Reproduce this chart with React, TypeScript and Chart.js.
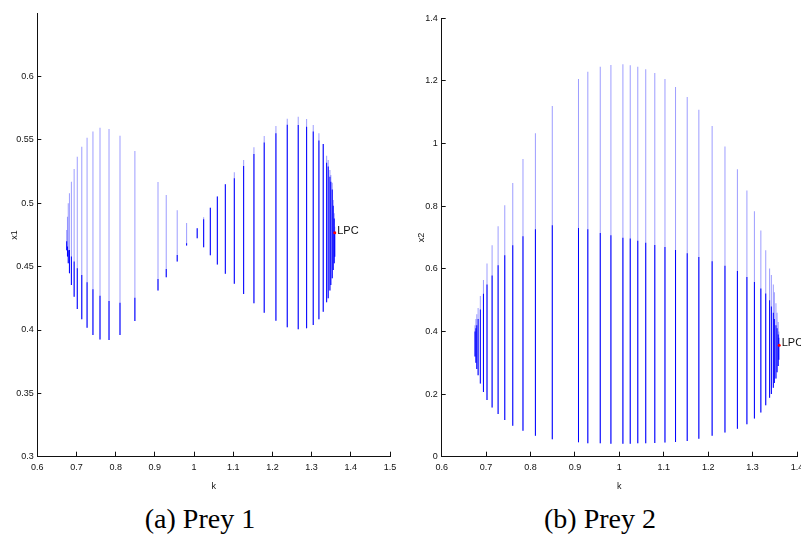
import React, { useEffect, useRef } from 'react';
import { Chart, registerables } from 'chart.js';
Chart.register(...registerables);

// continuation parameter k (shared by both panels)
const K = [0.675, 0.677, 0.679, 0.682, 0.687, 0.694, 0.702, 0.7135, 0.727, 0.742, 0.76, 0.783, 0.811, 0.849,
  0.908, 0.929, 0.957, 0.981, 1.008, 1.0245, 1.0415, 1.0594, 1.0798, 1.1027, 1.1265, 1.1528, 1.179, 1.2089,
  1.2378, 1.2658, 1.2872, 1.3041, 1.3186, 1.3296, 1.3383, 1.3423, 1.3467, 1.349, 1.3526, 1.3551, 1.3577, 1.359];

// Panel (a) Prey 1 : x1 range of the cycle
const A_LO = [0.463, 0.458, 0.4527, 0.4448, 0.4356, 0.4263, 0.4166, 0.4085, 0.4018, 0.3961, 0.3926, 0.3921, 0.3961, 0.4071,
  0.4311, 0.4416, 0.454, 0.4668, 0.4724, 0.4653, 0.459, 0.4517, 0.4444, 0.4366, 0.4285, 0.4211, 0.4137, 0.4074,
  0.4021, 0.4006, 0.4014, 0.404, 0.4085, 0.4145, 0.4219, 0.425, 0.4311, 0.4356, 0.4408, 0.4474, 0.4527, 0.4579];
const A_HI = [0.479, 0.4895, 0.5, 0.508, 0.5171, 0.5271, 0.5368, 0.5447, 0.5518, 0.5566, 0.5597, 0.5587, 0.5534, 0.5413,
  0.5168, 0.5066, 0.4945, 0.4845, 0.4803, 0.489, 0.4966, 0.5054, 0.515, 0.5245, 0.5342, 0.5442, 0.5532, 0.5611,
  0.5668, 0.5684, 0.5666, 0.5619, 0.5553, 0.5469, 0.5376, 0.5342, 0.5263, 0.5224, 0.5163, 0.5026, 0.4921, 0.4816];
const A_MID = [0.47, 0.466, 0.463, 0.4632, 0.458, 0.454, 0.4487, 0.4434, 0.4377, 0.4321, 0.4271, 0.4229, 0.4216, 0.4255,
  0.4403, 0.4482, 0.4592, 0.4684, 0.4803, 0.4874, 0.4966, 0.5054, 0.515, 0.5198, 0.5295, 0.539, 0.548, 0.5553,
  0.562, 0.5619, 0.5605, 0.5566, 0.5495, 0.5469, 0.532, 0.529, 0.521, 0.517, 0.511, 0.498, 0.488, 0.478];

// Panel (b) Prey 2 : x2 range of the cycle
const B_LO = [0.32, 0.3, 0.28, 0.26, 0.234, 0.207, 0.181, 0.157, 0.136, 0.117, 0.099, 0.083, 0.067, 0.056,
  0.046, 0.043, 0.043, 0.041, 0.041, 0.041, 0.043, 0.043, 0.044, 0.045, 0.047, 0.05, 0.057, 0.067,
  0.077, 0.089, 0.104, 0.122, 0.141, 0.164, 0.188, 0.2, 0.22, 0.235, 0.25, 0.27, 0.29, 0.31];
const B_HI = [0.42, 0.44, 0.455, 0.475, 0.513, 0.564, 0.617, 0.675, 0.736, 0.803, 0.874, 0.951, 1.033, 1.12,
  1.206, 1.229, 1.245, 1.251, 1.253, 1.25, 1.245, 1.237, 1.225, 1.206, 1.181, 1.149, 1.108, 1.056,
  0.991, 0.918, 0.85, 0.784, 0.722, 0.659, 0.601, 0.58, 0.55, 0.525, 0.49, 0.46, 0.43, 0.4];
const B_MID = [0.4, 0.41, 0.42, 0.44, 0.47, 0.52, 0.55, 0.579, 0.611, 0.643, 0.675, 0.704, 0.726, 0.739,
  0.73, 0.726, 0.714, 0.707, 0.699, 0.697, 0.69, 0.683, 0.676, 0.67, 0.66, 0.65, 0.638, 0.624,
  0.61, 0.593, 0.574, 0.558, 0.537, 0.521, 0.5, 0.48, 0.46, 0.44, 0.42, 0.41, 0.39, 0.38];

// limit point of cycles
const LPC_A = [1.359, 0.4767];
const LPC_B = [1.36, 0.356];

const X_TICKS_A = [0.6, 0.7, 0.8, 0.9, 1.0, 1.1, 1.2, 1.3, 1.4, 1.5];
const Y_TICKS_A = [0.3, 0.35, 0.4, 0.45, 0.5, 0.55, 0.6];
const X_TICKS_B = [0.6, 0.7, 0.8, 0.9, 1.0, 1.1, 1.2, 1.3, 1.4];
const Y_TICKS_B = [0, 0.2, 0.4, 0.6, 0.8, 1.0, 1.2, 1.4];

const SANS = "'Liberation Sans', Arial, Helvetica, sans-serif";

const lpcLabel = {
  id: 'lpcLabel',
  afterDatasetsDraw(chart: any) {
    chart.data.datasets.forEach((ds: any, i: number) => {
      if (ds.label !== 'LPC') return;
      const meta = chart.getDatasetMeta(i);
      const p = meta.data[0];
      if (!p) return;
      const ctx = chart.ctx;
      ctx.save();
      ctx.fillStyle = '#111';
      ctx.font = `11px ${SANS}`;
      ctx.textAlign = 'left';
      ctx.textBaseline = 'middle';
      ctx.fillText('LPC', p.x + 2.5, p.y - 2);
      ctx.restore();
    });
  },
};

function fmt(v: number) {
  return String(Math.round(v * 100) / 100);
}

function makeConfig(p: any) {
  const light = K.map((k, i) => ({ x: k, y: [p.lo[i], p.hi[i]] }));
  const dark = K.map((k, i) => ({ x: k, y: [p.lo[i], p.mid[i]] }));
  const tickFont = { family: SANS, size: 9 };
  return {
    type: 'bar',
    data: {
      datasets: [
        { type: 'line', label: 'LPC', data: [{ x: p.lpc[0], y: p.lpc[1] }], showLine: false, pointRadius: 1.5,
          pointBackgroundColor: '#ff0000', pointBorderColor: '#ff0000', pointBorderWidth: 0, order: 0 },
        { type: 'bar', label: 'dark', data: dark, backgroundColor: '#0000ff', barThickness: 1, inflateAmount: 0,
          grouped: false, borderWidth: 0, order: 1 },
        { type: 'bar', label: 'light', data: light, backgroundColor: 'rgba(60,60,255,0.5)', barThickness: 1,
          inflateAmount: 0, grouped: false, borderWidth: 0, order: 2 },
      ],
    },
    options: {
      animation: false,
      responsive: false,
      devicePixelRatio: 1,
      layout: { padding: { left: 0, top: p.top, right: p.right, bottom: 0 } },
      plugins: { legend: { display: false }, tooltip: { enabled: false }, title: { display: false } },
      scales: {
        x: {
          type: 'linear', min: p.xt[0], max: p.xt[p.xt.length - 1], offset: false,
          afterBuildTicks: (s: any) => { s.ticks = p.xt.map((v: number) => ({ value: v })); },
          afterFit: (s: any) => { s.height = 43.3; s.paddingLeft = 0; s.paddingRight = 0; },
          grid: { drawOnChartArea: false, drawTicks: true, tickLength: -5, color: '#111', offset: false },
          border: { display: true, color: '#111', width: 1 },
          ticks: { padding: 10, font: tickFont, color: '#111', maxRotation: 0, autoSkip: false, callback: (v: any) => fmt(v) },
          title: { display: true, text: 'k', font: { family: SANS, size: 9 }, color: '#111', padding: { top: 0, bottom: 7.6 } },
        },
        y: {
          type: 'linear', min: p.yt[0], max: p.ymax, beginAtZero: false,
          afterBuildTicks: (s: any) => { s.ticks = p.yt.map((v: number) => ({ value: v })); },
          afterFit: (s: any) => { s.width = p.left; s.paddingTop = 0; s.paddingBottom = 0; },
          grid: { drawOnChartArea: false, drawTicks: true, tickLength: -4, color: '#111' },
          border: { display: true, color: '#111', width: 1 },
          ticks: { padding: p.ypad, font: tickFont, color: '#111', autoSkip: false, callback: (v: any) => fmt(v) },
          title: { display: true, text: p.ytitle, font: { family: SANS, size: 9 }, color: '#111', padding: { top: p.ytpad, bottom: 0 } },
        },
      },
    },
    plugins: [lpcLabel],
  };
}

const PANEL_A = { lo: A_LO, hi: A_HI, mid: A_MID, lpc: LPC_A, xt: X_TICKS_A, yt: Y_TICKS_A, ymax: 0.65,
  top: 13.3, right: 10, left: 37.3, ypad: 7.5, ytitle: 'x1', ytpad: 9.6 };
const PANEL_B = { lo: B_LO, hi: B_HI, mid: B_MID, lpc: LPC_B, xt: X_TICKS_B, yt: Y_TICKS_B, ymax: 1.4,
  top: 18.3, right: 3.3, left: 41.7, ypad: 8, ytitle: 'x2', ytpad: 16.6 };

function Panel({ p, left, width }: { p: any; left: number; width: number }) {
  const ref = useRef<HTMLCanvasElement | null>(null);
  useEffect(() => {
    if (!ref.current) return;
    const chart = new Chart(ref.current, makeConfig(p) as any);
    return () => chart.destroy();
  }, [p]);
  return (
    <canvas ref={ref} width={width} height={500}
      style={{ position: 'absolute', left, top: 0, width, height: 500 }} />
  );
}

const captionStyle: any = {
  position: 'absolute', top: 503, width: 400, textAlign: 'center',
  fontFamily: "'Liberation Serif', 'Times New Roman', serif", fontSize: 28, lineHeight: '32px', color: '#000',
};

export default function App() {
  return (
    <div style={{ position: 'absolute', left: 0, top: 0, width: 801, height: 546, background: '#fff', overflow: 'hidden' }}>
      <Panel p={PANEL_A} left={0} width={400} />
      <Panel p={PANEL_B} left={400} width={401} />
      <div style={{ ...captionStyle, left: 0 }}>(a) Prey 1</div>
      <div style={{ ...captionStyle, left: 400 }}>(b) Prey 2</div>
    </div>
  );
}
